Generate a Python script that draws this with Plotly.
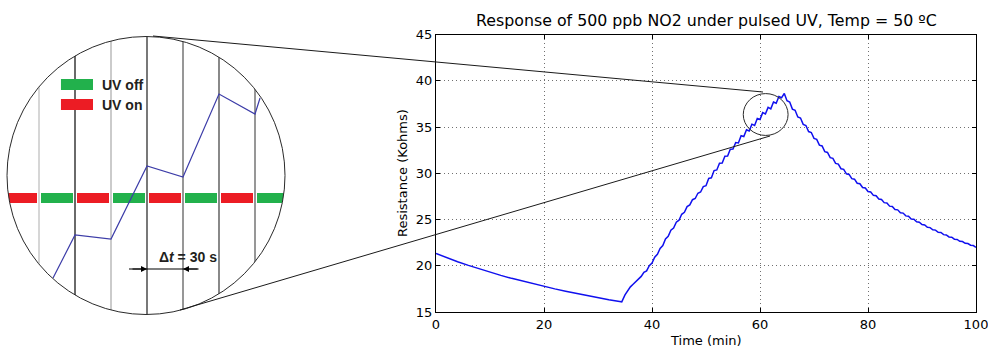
import plotly.graph_objects as go

# ---------------- data ----------------
time_min = [0, 2, 4, 6, 8, 10, 12, 14, 16, 18, 20, 22, 24, 26, 28, 30, 32, 34, 34.4,
            35.0, 35.5, 36.0, 36.5, 37.0, 37.5,
            38.0, 38.5, 39.0, 39.5, 40.0, 40.5, 41.0, 41.5, 42.0, 42.5, 43.0, 43.5,
            44.0, 44.5, 45.0, 45.5, 46.0, 46.5, 47.0, 47.5, 48.0, 48.5, 49.0, 49.5,
            50.0, 50.5, 51.0, 51.5, 52.0, 52.5, 53.0, 53.5, 54.0, 54.5, 55.0, 55.5,
            56.0, 56.5, 57.0, 57.5, 58.0, 58.5, 59.0, 59.5, 60.0, 60.5, 61.0, 61.5,
            62.0, 62.5, 63.0, 63.5, 64.0, 64.5,
            65.0, 65.5, 66.0, 66.5, 67.0, 67.5, 68.0, 68.5, 69.0, 69.5, 70.0, 70.5,
            71.0, 71.5, 72.0, 72.5, 73.0, 73.5, 74.0, 74.5, 75.0, 75.5, 76.0, 76.5,
            77.0, 77.5, 78.0, 78.5, 79.0, 79.5, 80.0, 80.5, 81.0, 81.5, 82.0, 82.5,
            83.0, 83.5, 84.0, 84.5, 85.0, 85.5, 86.0, 86.5, 87.0, 87.5, 88.0, 88.5,
            89.0, 89.5, 90.0, 90.5, 91.0, 91.5, 92.0, 92.5, 93.0, 93.5, 94.0, 94.5,
            95.0, 95.5, 96.0, 96.5, 97.0, 97.5, 98.0, 98.5, 99.0, 99.5, 100.0]
resistance = [21.33, 20.87, 20.44, 20.04, 19.66, 19.30, 18.96, 18.64, 18.34, 18.04, 17.76,
              17.50, 17.25, 17.01, 16.78, 16.55, 16.33, 16.14, 16.10,
              16.85, 17.35, 17.72, 18.00, 18.32, 18.60,
              18.85, 19.30, 19.45, 20.02, 20.30, 20.92, 21.25, 21.87, 22.18, 22.90, 23.18, 23.85,
              24.08, 24.72, 24.93, 25.57, 25.78, 26.40, 26.58, 27.15, 27.28, 27.85, 27.98, 28.57,
              28.67, 29.45, 29.52, 30.30, 30.37, 31.10, 31.12, 31.85, 31.87, 32.60, 32.62, 33.33,
              33.28, 34.07, 33.98, 34.72, 34.58, 35.32, 35.18, 35.94, 35.83, 36.57, 36.43, 37.14,
              36.98, 37.72, 37.58, 38.32, 38.18, 38.65,
              37.85, 37.72, 36.95, 36.82, 36.10, 35.98, 35.30, 35.18, 34.52, 34.42, 33.78, 33.68,
              33.05, 32.96, 32.35, 32.26, 31.70, 31.62, 31.08, 31.00, 30.50, 30.43, 29.95, 29.88,
              29.43, 29.37, 28.93, 28.87, 28.47, 28.41, 28.03, 27.98, 27.62, 27.57, 27.22, 27.17,
              26.83, 26.79, 26.45, 26.41, 26.09, 26.05, 25.74, 25.70, 25.40, 25.36, 25.07, 25.03,
              24.76, 24.72, 24.46, 24.42, 24.17, 24.13, 23.90, 23.86, 23.63, 23.60, 23.37, 23.34,
              23.12, 23.09, 22.88, 22.85, 22.65, 22.62, 22.43, 22.40, 22.22, 22.19, 22.00]

x_ticks = [0, 20, 40, 60, 80, 100]
y_ticks = [15, 20, 25, 30, 35, 40, 45]

# magnified inset (time in seconds, resistance in kOhm)
inset_t = [41.7, 60, 90, 120, 150, 180, 210, 214.2]
inset_r = [34.37, 34.80, 34.76, 35.49, 35.38, 36.21, 36.01, 36.17]
inset_grid_t = [30, 60, 90, 120, 150, 180, 210]
pulse_center_t = [15, 45, 75, 105, 135, 165, 195, 225]
pulse_state = ["on", "off", "on", "off", "on", "off", "on", "off"]

# ---------------- styling ----------------
W, H = 988, 347
RED, GREEN = "#ec1c24", "#22b14c"
grid_colors = ["#d2d2d2", "#5a5a5a", "#c6c6c6", "#6a6a6a", "#8c8c8c", "#7c7c7c", "#8c8c8c"]


def PX(x):
    return x / W


def PY(y):
    return 1 - y / H


fig = go.Figure()

# main curve
fig.add_trace(go.Scatter(x=time_min, y=resistance, mode="lines",
                         line=dict(color="#1010ee", width=1.5),
                         xaxis="x", yaxis="y", hoverinfo="skip", showlegend=False))

# inset: pulse bars
fig.add_trace(go.Bar(x=pulse_center_t, y=[0.10] * len(pulse_center_t), base=35.12,
                     width=26.7,
                     marker=dict(color=[RED if s == "on" else GREEN for s in pulse_state],
                                 line=dict(width=0)),
                     xaxis="x2", yaxis="y2", hoverinfo="skip", showlegend=False))
# inset: vertical grid lines
for t, c in zip(inset_grid_t, grid_colors):
    fig.add_trace(go.Scatter(x=[t, t], y=[33.5, 37.5], mode="lines",
                             line=dict(color=c, width=1.8),
                             xaxis="x2", yaxis="y2", hoverinfo="skip", showlegend=False))
# inset: zig-zag response
fig.add_trace(go.Scatter(x=inset_t, y=inset_r, mode="lines",
                         line=dict(color="#3c3ca8", width=1.2),
                         xaxis="x2", yaxis="y2", hoverinfo="skip", showlegend=False))

font_main = dict(family="DejaVu Sans", size=13, color="black")
axis_common = dict(showline=True, linecolor="black", linewidth=1, mirror="ticks",
                   ticks="inside", ticklen=4, tickcolor="black", tickwidth=1,
                   showgrid=True, gridcolor="#707070", griddash="1px,3px", gridwidth=1,
                   zeroline=False, tickfont=font_main, automargin=False,
                   ticklabeloverflow="allow")

fig.update_layout(
    width=W, height=H,
    margin=dict(l=0, r=0, t=0, b=0),
    paper_bgcolor="white", plot_bgcolor="rgba(0,0,0,0)",
    bargap=0,
    xaxis=dict(domain=[PX(436), PX(976)], range=[0, 100], tickvals=x_ticks,
               anchor="y", **axis_common),
    yaxis=dict(domain=[PY(312), PY(34.7)], range=[15, 45], tickvals=y_ticks,
               anchor="x", **axis_common),
    xaxis2=dict(domain=[PX(7), PX(285)], range=[3.33, 235], visible=False,
                anchor="y2", fixedrange=True),
    yaxis2=dict(domain=[PY(315), PY(36)], range=[34.0, 36.79], visible=False,
                anchor="x2", fixedrange=True),
)

# ---------- mask around the circular inset ----------
cx, cy, r = 146, 175.5, 139
k = 0.5523 * r


def P(x, y):
    return f"{PX(x):.6f},{PY(y):.6f}"


circle_path = (f"M {P(cx + r, cy)} "
               f"C {P(cx + r, cy + k)} {P(cx + k, cy + r)} {P(cx, cy + r)} "
               f"C {P(cx - k, cy + r)} {P(cx - r, cy + k)} {P(cx - r, cy)} "
               f"C {P(cx - r, cy - k)} {P(cx - k, cy - r)} {P(cx, cy - r)} "
               f"C {P(cx + k, cy - r)} {P(cx + r, cy - k)} {P(cx + r, cy)} Z")
rect_path = f"M {P(0, 20)} L {P(300, 20)} L {P(300, 335)} L {P(0, 335)} Z"

shapes = [
    dict(type="path", xref="paper", yref="paper", path=rect_path + " " + circle_path,
         fillcolor="white", fillrule="evenodd", line=dict(width=0), layer="above"),
    dict(type="circle", xref="paper", yref="paper",
         x0=PX(cx - r), x1=PX(cx + r), y0=PY(cy + r), y1=PY(cy - r),
         line=dict(color="#2a2a2a", width=1), layer="above"),
    # small circle on the main chart
    dict(type="circle", xref="x", yref="y", x0=56.9, x1=65.2, y0=34.1, y1=38.63,
         line=dict(color="#2a2a2a", width=1), layer="above"),
    # connectors
    dict(type="line", xref="paper", yref="paper", x0=PX(153), y0=PY(36), x1=PX(763), y1=PY(92),
         line=dict(color="#1a1a1a", width=1), layer="above"),
    dict(type="line", xref="paper", yref="paper", x0=PX(180), y0=PY(310), x1=PX(770), y1=PY(136),
         line=dict(color="#1a1a1a", width=1), layer="above"),
    # legend swatches in inset
    dict(type="rect", xref="x2", yref="y2", x0=48.3, x1=75, y0=36.25, y1=36.36,
         fillcolor=GREEN, line=dict(width=0), layer="above"),
    dict(type="rect", xref="x2", yref="y2", x0=48.3, x1=75, y0=36.05, y1=36.16,
         fillcolor=RED, line=dict(width=0), layer="above"),
    # delta-t measurement line
    dict(type="line", xref="x2", yref="y2", x0=105, x1=163, y0=34.46, y1=34.46,
         line=dict(color="black", width=1.2), layer="above"),
]
fig.update_layout(shapes=shapes)

lab_font = dict(family="Liberation Sans", size=14, color="#231f20")
annotations = [
    dict(xref="paper", yref="paper", x=PX(706), y=PY(21), text="Response of 500 ppb NO2 under pulsed UV, Temp = 50 ºC",
         showarrow=False, xanchor="center", yanchor="middle",
         font=dict(family="DejaVu Sans", size=15.8, color="black")),
    dict(xref="paper", yref="paper", x=PX(706), y=PY(340), text="Time (min)",
         showarrow=False, xanchor="center", yanchor="middle", font=font_main),
    dict(xref="paper", yref="paper", x=PX(402), y=PY(173), text="Resistance (Kohms)",
         showarrow=False, xanchor="center", yanchor="middle", textangle=-90, font=font_main),
    dict(xref="x2", yref="y2", x=80.8, y=36.305, text="<b>UV off</b>", showarrow=False,
         xanchor="left", yanchor="middle", font=lab_font),
    dict(xref="x2", yref="y2", x=80.8, y=36.105, text="<b>UV on</b>", showarrow=False,
         xanchor="left", yanchor="middle", font=lab_font),
    dict(xref="x2", yref="y2", x=154, y=34.58, text="<b>Δ<i>t</i> = 30 s</b>", showarrow=False,
         xanchor="center", yanchor="middle", font=lab_font),
    dict(xref="x2", yref="y2", x=120, y=34.46, ax=-16, ay=0, text="", showarrow=True,
         arrowhead=2, arrowsize=1, arrowwidth=1.2, arrowcolor="black"),
    dict(xref="x2", yref="y2", x=150, y=34.46, ax=16, ay=0, text="", showarrow=True,
         arrowhead=2, arrowsize=1, arrowwidth=1.2, arrowcolor="black"),
]
fig.update_layout(annotations=annotations)

fig.write_html("out.html")
